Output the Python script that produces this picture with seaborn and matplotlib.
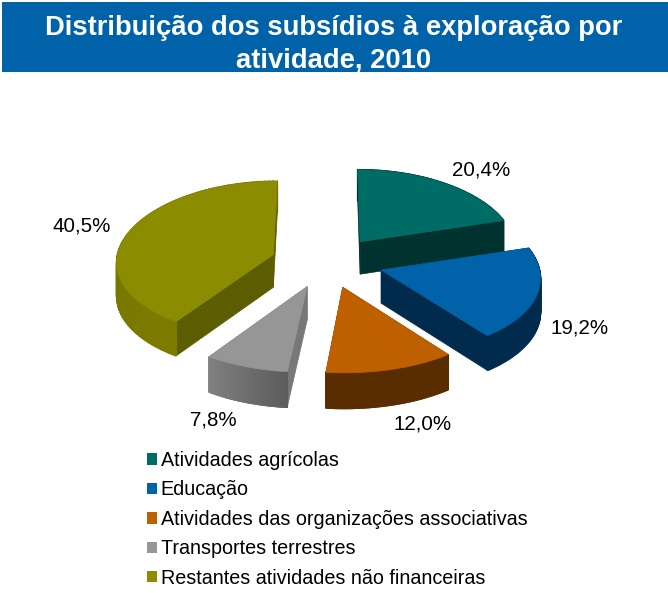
"""Distribuição dos subsídios à exploração por atividade, 2010 (exploded 3D pie)."""

import numpy as np
import matplotlib
matplotlib.use("Agg")
import matplotlib.pyplot as plt
from matplotlib.colors import to_rgb
from matplotlib.patches import Patch, Rectangle
import seaborn as sns

# Data
CATEGORIES = [
    "Atividades agrícolas",
    "Educação",
    "Atividades das organizações associativas",
    "Transportes terrestres",
    "Restantes atividades não financeiras",
]
SHARES = [20.4, 19.2, 12.0, 7.8, 40.5]
VALUE_LABELS = ["20,4%", "19,2%", "12,0%", "7,8%", "40,5%"]
TITLE = "Distribuição dos subsídios à exploração por\natividade, 2010"

# Style
COLORS = ["#006C66", "#0062A8", "#BF6000", "#969696", "#8C8C00"]
RADIAL_DARK = ["#003330", "#002B4D", "#5A2D00", "#787878", "#5C5C00"]
ARC_DARK = [("#003330", "#003330"), ("#002B4D", "#002B4D"), ("#5A2D00", "#5A2D00"),
            ("#5C5C5C", "#808080"), ("#7C7C00", "#6E6E00")]
LABEL_POS = [(481, 170), (580, 328), (423, 424), (213, 420), (82, 226)]
DRAW_ORDER = [0, 4, 1, 3, 2]

CENTER_X, CENTER_Y = 327, 262
SCALE_X, SCALE_Y = 157, 78
PERSPECTIVE_X, PERSPECTIVE_Y = 0.08, 0.055
EXPLODE_X, EXPLODE_Y = 0.36, 0.33
DEPTH = 33

sns.set_theme(style="white")
plt.rcParams["font.family"] = ["Liberation Sans", "DejaVu Sans"]


def project(x, y, depth=0.0):
    # flat pie coordinates -> picture pixels
    wx = 1 - PERSPECTIVE_X * y
    wy = 1 - PERSPECTIVE_Y * y
    return CENTER_X + SCALE_X * x / wx, CENTER_Y + SCALE_Y * y / wy + depth / wy


def draw_slice(ax, start, stop, color, radial_dark, arc_dark):
    theta = np.linspace(start, stop, 90)
    mid = (start + stop) / 2
    ox, oy = EXPLODE_X * np.sin(mid), -EXPLODE_Y * np.cos(mid)
    arc_x, arc_y = ox + np.sin(theta), oy - np.cos(theta)

    # radial side walls
    for t in (start, stop):
        ex, ey = ox + np.sin(t), oy - np.cos(t)
        p = [project(ox, oy), project(ex, ey), project(ex, ey, DEPTH), project(ox, oy, DEPTH)]
        ax.fill(*zip(*p), color=radial_dark, lw=0.5, zorder=2)

    # outer wall, shaded along the arc
    c0, c1 = np.array(to_rgb(arc_dark[0])), np.array(to_rgb(arc_dark[1]))
    for i in range(len(theta) - 1):
        frac = i / (len(theta) - 2)
        p = [project(arc_x[i], arc_y[i]), project(arc_x[i + 1], arc_y[i + 1]),
             project(arc_x[i + 1], arc_y[i + 1], DEPTH), project(arc_x[i], arc_y[i], DEPTH)]
        ax.fill(*zip(*p), color=c0 + (c1 - c0) * frac, lw=1.2, zorder=2)

    # top face
    top_x, top_y = project(np.r_[ox, arc_x], np.r_[oy, arc_y])
    ax.fill(top_x, top_y, color=color, lw=0.5, zorder=2)


def main():
    fig = plt.figure(figsize=(6.68, 5.93), dpi=100)
    ax = fig.add_axes([0, 0, 1, 1])
    ax.set_xlim(0, 668)
    ax.set_ylim(593, 0)
    ax.axis("off")

    # title banner
    ax.add_patch(Rectangle((2, 2), 666, 70, color="#0062A8", lw=0, zorder=1))
    ax.text(334, 44, TITLE, color="white", fontsize=19.7, fontweight="bold",
            ha="center", va="center", linespacing=1.32, zorder=3)

    # pie
    edges = np.r_[0, np.cumsum(SHARES)] / np.sum(SHARES) * 2 * np.pi
    for i in DRAW_ORDER:
        draw_slice(ax, edges[i], edges[i + 1], COLORS[i], RADIAL_DARK[i], ARC_DARK[i])

    for text, (x, y) in zip(VALUE_LABELS, LABEL_POS):
        ax.text(x, y, text, fontsize=14.8, color="black", ha="center", va="center", zorder=3)

    # legend
    handles = [Patch(facecolor=c, edgecolor="none") for c in COLORS]
    ax.legend(handles, CATEGORIES, loc="upper left", bbox_to_anchor=(147 / 668, 1 - 451 / 593),
              frameon=False, fontsize=14.2, labelcolor="black", borderpad=0, borderaxespad=0,
              labelspacing=0.53, handlelength=0.5, handleheight=0.5, handletextpad=0.2)

    fig.savefig("out.png", dpi=100, facecolor="white")


if __name__ == "__main__":
    main()
